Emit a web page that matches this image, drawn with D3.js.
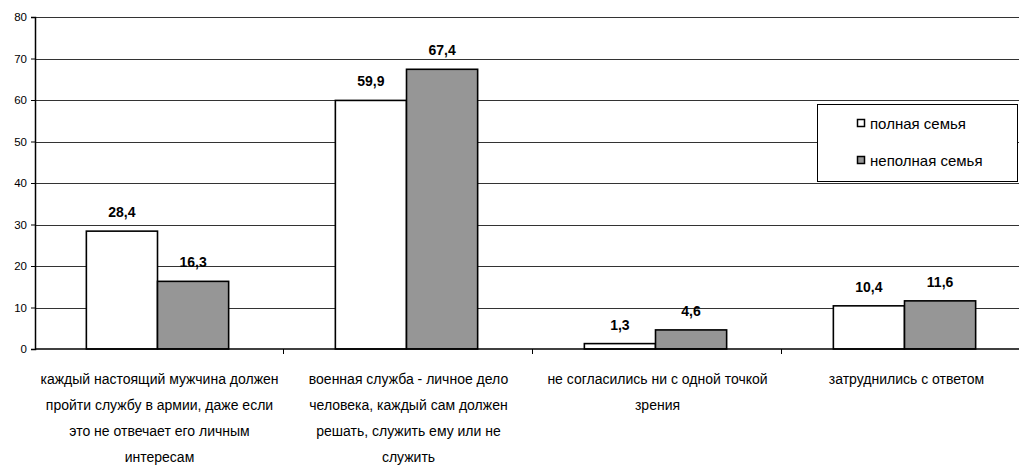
<!DOCTYPE html>
<html lang="ru">
<head>
    <meta charset="UTF-8">
    <title>Служба в армии</title>
    <script src="https://cdnjs.cloudflare.com/ajax/libs/d3/7.8.5/d3.min.js"></script>
    <style>
        body {
            margin: 0;
            background: #fff;
            font-family: "Liberation Sans", Arial, sans-serif;
        }
        svg { display: block; }
    </style>
</head>
<body>
    <svg id="chart" width="1019" height="466"></svg>
    <script>
        // Categories (wrapped the way the original labels are)
        const categories = ["c1", "c2", "c3", "c4"];
        const categoryLabels = [
            ["каждый настоящий мужчина должен", "пройти службу в армии, даже если", "это не отвечает его личным", "интересам"],
            ["военная служба - личное дело", "человека, каждый сам должен", "решать, служить ему или не", "служить"],
            ["не согласились ни с одной точкой", "зрения"],
            ["затруднились с ответом"]
        ];
        const seriesNames = ["полная семья", "неполная семья"];
        const fullFamily = [28.4, 59.9, 1.3, 10.4];
        const partialFamily = [16.3, 67.4, 4.6, 11.6];
        const yTicks = [0, 10, 20, 30, 40, 50, 60, 70, 80];

        const colors = ["#ffffff", "#969696"];
        const fmt = v => String(v.toFixed(1)).replace(".", ",");

        const svg = d3.select("#chart");
        const plotLeft = 35, plotTop = 17, plotH = 332, plotW = 996;

        const x = d3.scaleBand()
            .domain(categories)
            .range([plotLeft, plotLeft + plotW])
            .paddingInner(0)
            .paddingOuter(0);

        const x1 = d3.scaleBand()
            .domain(seriesNames)
            .range([-2, x.bandwidth() - 2])
            .paddingInner(0)
            .paddingOuter(0.75);

        const y = d3.scaleLinear()
            .domain([0, 80])
            .range([plotTop + plotH, plotTop]);

        // Gridlines
        svg.append("g")
            .selectAll("line")
            .data(yTicks.filter(d => d > 0))
            .join("line")
            .attr("x1", plotLeft)
            .attr("x2", 1019)
            .attr("y1", d => Math.round(y(d)) + 0.5)
            .attr("y2", d => Math.round(y(d)) + 0.5)
            .attr("stroke", "#333")
            .attr("stroke-width", 1);

        // Bars
        const series = [fullFamily, partialFamily];
        const groups = svg.append("g")
            .selectAll("g")
            .data(series)
            .join("g")
            .attr("fill", (d, i) => colors[i]);

        groups.selectAll("rect")
            .data((vals, si) => vals.map((v, ci) => ({ v, ci, si })))
            .join("rect")
            .attr("x", d => x(categories[d.ci]) + x1(seriesNames[d.si]))
            .attr("width", x1.bandwidth())
            .attr("y", d => y(d.v))
            .attr("height", d => y(0) - y(d.v))
            .attr("stroke", "#000")
            .attr("stroke-width", 1.6);

        // Value labels
        groups.selectAll("text")
            .data((vals, si) => vals.map((v, ci) => ({ v, ci, si })))
            .join("text")
            .attr("x", d => x(categories[d.ci]) + x1(seriesNames[d.si]) + x1.bandwidth() / 2)
            .attr("y", d => y(d.v) - 14)
            .attr("text-anchor", "middle")
            .attr("font-size", 14)
            .attr("font-weight", "bold")
            .attr("fill", "#000")
            .text(d => fmt(d.v));

        // Y axis
        const yAxis = svg.append("g")
            .attr("transform", `translate(${plotLeft},0)`)
            .call(d3.axisLeft(y).tickValues(yTicks).tickSize(4).tickPadding(4).tickFormat(d => d));
        yAxis.select(".domain").attr("stroke", "#000").attr("stroke-width", 1.5);
        yAxis.selectAll("text")
            .attr("font-size", 11.5)
            .attr("font-family", "'Liberation Sans', Arial, sans-serif")
            .attr("fill", "#000");

        // X axis
        const xAxis = svg.append("g")
            .attr("transform", `translate(0,${y(0)})`);
        xAxis.append("line")
            .attr("x1", plotLeft).attr("x2", 1019)
            .attr("stroke", "#000").attr("stroke-width", 1.5);
        xAxis.selectAll(".tk")
            .data(categories.slice(1))
            .join("line")
            .attr("class", "tk")
            .attr("x1", d => x(d) - 0.5).attr("x2", d => x(d) - 0.5)
            .attr("y1", 0).attr("y2", 5)
            .attr("stroke", "#000");

        // Category labels
        const lab = svg.append("g")
            .attr("font-size", 14)
            .attr("fill", "#000")
            .attr("text-anchor", "middle");
        categoryLabels.forEach((lines, i) => {
            const cx = x(categories[i]) + x.bandwidth() / 2;
            lines.forEach((t, j) => {
                lab.append("text")
                    .attr("x", cx)
                    .attr("y", 384 + j * 26)
                    .text(t);
            });
        });

        // Legend
        const legend = svg.append("g");
        legend.append("rect")
            .attr("x", 817.5).attr("y", 104.5)
            .attr("width", 200).attr("height", 77)
            .attr("fill", "#fff").attr("stroke", "#000");
        seriesNames.forEach((s, i) => {
            const ly = 124 + i * 37;
            legend.append("rect")
                .attr("x", 857.5).attr("y", ly - 4.5)
                .attr("width", 7).attr("height", 7)
                .attr("fill", colors[i]).attr("stroke", "#000").attr("stroke-width", 1.5);
            legend.append("text")
                .attr("x", 870).attr("y", ly + 5)
                .attr("font-size", 15)
                .attr("fill", "#000")
                .text(s);
        });
    </script>
</body>
</html>
